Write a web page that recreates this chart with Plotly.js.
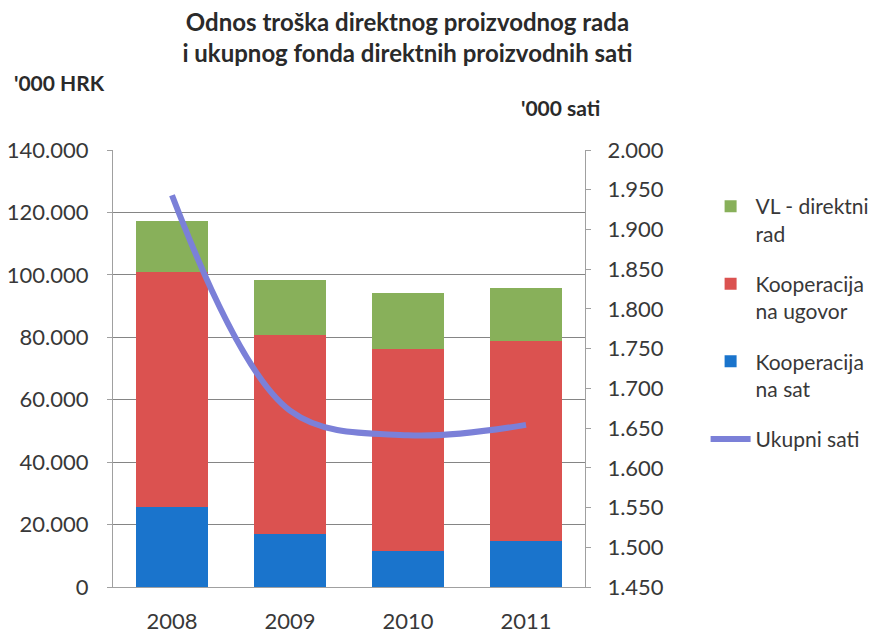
<!DOCTYPE html>
<html>
<head>
<meta charset="utf-8">
<script src="https://cdn.plot.ly/plotly-3.0.1.min.js"></script>
<style>html,body{margin:0;padding:0;background:#fff;}#chart{width:882px;height:637px;}</style>
</head>
<body>
<div id="chart"></div>
<script>
const years = ['2008', '2009', '2010', '2011'];
const koopSat = [25700, 16900, 11600, 14700];
const koopUgovor = [75100, 63800, 64700, 64100];
const vlDirektni = [16600, 17700, 17800, 17100];
const ukupniSati = [1943, 1672, 1641, 1654];

const names = ['Kooperacija<br>na sat', 'Kooperacija<br>na ugovor', 'VL - direktni<br>rad', 'Ukupni sati'];
const font = 'Lato, "Open Sans", sans-serif';

const data = [
  {type: 'bar', x: years, y: koopSat, name: names[0], marker: {color: '#1a74cc'}, legendrank: 3, legendgroup: 'c', hoverinfo: 'y'},
  {type: 'bar', x: years, y: koopUgovor, name: names[1], marker: {color: '#db5250'}, legendrank: 2, legendgroup: 'b', hoverinfo: 'y'},
  {type: 'bar', x: years, y: vlDirektni, name: names[2], marker: {color: '#88b05a'}, legendrank: 1, legendgroup: 'a', hoverinfo: 'y'},
  {type: 'scatter', mode: 'lines', x: years, y: ukupniSati, name: names[3], yaxis: 'y2',
   line: {color: '#7b80d8', width: 6, shape: 'spline', smoothing: 1}, legendrank: 4, legendgroup: 'd'}
];

const layout = {
  width: 882, height: 637,
  margin: {l: 113, r: 297, t: 150, b: 50},
  paper_bgcolor: '#fff', plot_bgcolor: '#fff',
  barmode: 'stack', bargap: 0.39,
  separators: ',.',
  font: {family: font, size: 22, color: '#383838'},
  title: {text: '<b>Odnos troška direktnog proizvodnog rada<br>i ukupnog fonda direktnih proizvodnih sati</b>',
          x: 0.462, xref: 'container', xanchor: 'center', y: 0.952, yref: 'container', yanchor: 'top',
          font: {family: font, size: 24, color: '#2a2a2a'}},
  xaxis: {type: 'category', showgrid: false, showline: true, linecolor: '#a0a0a0', linewidth: 1,
          ticks: '', tickfont: {size: 22, color: '#383838'}, ticklabelstandoff: 15},
  yaxis: {range: [0, 140000], dtick: 20000, tickformat: ',d', showgrid: true, gridcolor: '#858585', gridwidth: 1,
          showline: true, linecolor: '#a0a0a0', ticks: 'outside', ticklen: 5, tickcolor: '#a0a0a0',
          zeroline: false, tickfont: {size: 22, color: '#383838'}, ticklabelstandoff: 14},
  yaxis2: {overlaying: 'y', side: 'right', range: [1450, 2000], dtick: 50, tickformat: ',d', showgrid: false,
           showline: true, linecolor: '#a0a0a0', ticks: 'outside', ticklen: 5, tickcolor: '#a0a0a0',
           zeroline: false, tickfont: {size: 22, color: '#383838'}, ticklabelstandoff: 12},
  legend: {xref: 'container', yref: 'container', x: 0.8, xanchor: 'left', y: 0.708, yanchor: 'top',
           traceorder: 'grouped', tracegroupgap: 20,
           valign: 'top', font: {size: 21, color: '#383838'}, itemwidth: 40},
  showlegend: true,
  annotations: [
    {text: "<b>'000 HRK</b>", xref: 'paper', yref: 'paper', x: -0.215, y: 1.155, xanchor: 'left', yanchor: 'middle',
     showarrow: false, font: {size: 21, color: '#2a2a2a'}},
    {text: "<b>'000 sati</b>", xref: 'paper', yref: 'paper', x: 0.86, y: 1.098, xanchor: 'left', yanchor: 'middle',
     showarrow: false, font: {size: 21, color: '#2a2a2a'}}
  ]
};

Plotly.newPlot('chart', data, layout, {displayModeBar: false});
</script>
</body>
</html>
